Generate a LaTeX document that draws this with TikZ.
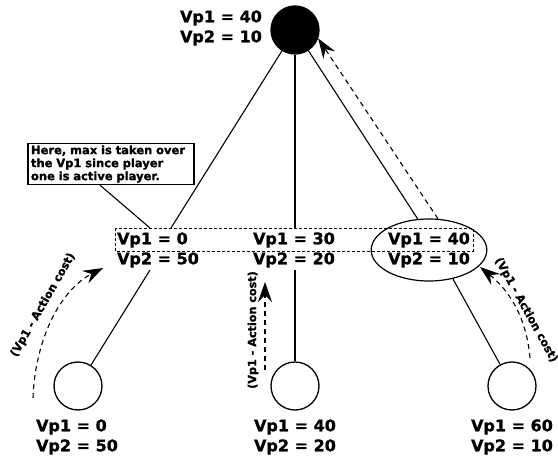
\documentclass[tikz,border=0pt]{standalone}
\usepackage{fontspec}
\setmainfont[BoldFeatures={FakeBold=1.2}]{DejaVu Sans}
\usetikzlibrary{arrows.meta, shapes.geometric}

\begin{document}
\begin{tikzpicture}[x=1pt,y=-1pt,line width=1.1pt,
    st/.style={circle,draw,line width=1.3pt,minimum size=48pt,inner sep=0pt},
    val/.style={align=left,inner sep=0pt,font=\fontsize{16}{20}\selectfont\bfseries},
    lbl/.style={inner sep=0pt,font=\fontsize{11.2}{13}\selectfont\bfseries},
    note/.style={draw,align=left,text width=160pt,inner xsep=3pt,inner ysep=2pt,
        font=\fontsize{11.5}{13}\selectfont\bfseries},
    cost/.style={dash pattern=on 5pt off 4pt,-{Stealth[length=20pt,width=14pt,inset=7pt]}}]
            \useasboundingbox (0,0) rectangle (558,458);

            \draw (295,30) node[st,fill](root){};
            \draw (221,28) node[val](rootval){Vp1 = 40\\Vp2 = 10};

            \draw (158,250) node[val](m1){Vp1 = 0\\Vp2 = 50};
            \draw (294,250) node[val](m2){Vp1 = 30\\Vp2 = 20};
            \draw (429,250) node[val,ellipse,draw,line width=1.2pt,minimum width=108pt,minimum height=62pt](m3){Vp1 = 40\\Vp2 = 10};
            \draw[dash pattern=on 3pt off 2pt, line width=0.9pt] (115,228) rectangle (473,251);

            \draw (78,386)  node[st](l1){};
            \draw (295,386) node[st](l2){};
            \draw (512,386) node[st](l3){};
            \draw (77,437)  node[val](l1val){Vp1 = 0\\Vp2 = 50};
            \draw (295,437) node[val](l2val){Vp1 = 40\\Vp2 = 20};
            \draw (512,437) node[val](l3val){Vp1 = 60\\Vp2 = 10};

            \draw (111,164) node[note](note){Here, max is taken over\\the Vp1 since player\\one is active player.};

            \coordinate (t1) at (171,228);
            \coordinate (t2) at (295,228);
            \coordinate (b1) at (150,270);
            \coordinate (b2) at (295,270);
            \coordinate (b3) at (453,279);
            \coordinate (p)  at (150,228);

            \path (root) edge (t1);
            \path (root) edge (t2);
            \path (root) edge (m3.110);
            \path (b1) edge (l1);
            \path (b2) edge (l2);
            \path (b3) edge (l3);
            \path ([xshift=-11pt]note.south) edge (p);

            \coordinate (c1s) at (33,398);
            \coordinate (c1e) at (103,268);
            \coordinate (c2s) at (265,370);
            \coordinate (c2e) at (265,282);
            \coordinate (c3s) at (530,358);
            \coordinate (c3e) at (480,267);

            \begin{scope}[cost]
                \draw (c1s) .. controls (35,340) and (60,290) .. (c1e);
                \draw (c2s) -- (c2e);
                \draw (c3s) .. controls (526,312) and (505,287) .. (c3e);
                \draw (m3.74) -- (root.-20);
            \end{scope}

            \draw (43,305)  node[lbl,rotate=60](k1){(Vp1 - Action cost)};
            \draw (253,330) node[lbl,rotate=90](k2){(Vp1 - Action cost)};
            \draw (526,310) node[lbl,rotate=-61](k3){(Vp1 - Action cost)};
        \end{tikzpicture}
\end{document}
